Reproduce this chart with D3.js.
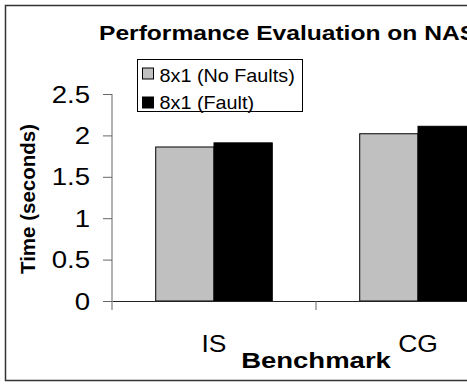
<!DOCTYPE html>
<html>
<head>
<meta charset="utf-8">
<script src="https://cdn.jsdelivr.net/npm/d3@7"></script>
<style>
  html, body { margin: 0; padding: 0; background: #fff; }
  svg { display: block; font-family: "Liberation Sans", Arial, sans-serif; }
</style>
</head>
<body>
<script>
// chart data
const categories = ['IS', 'CG'];
const seriesNames = ['8x1 (No Faults)', '8x1 (Fault)'];
const noFaults = [1.86, 2.02];
const fault = [1.91, 2.11];
const yTicks = [0, 0.5, 1, 1.5, 2, 2.5];

const seriesColors = ['#c0c0c0', '#000000'];

const width = 467, height = 384;
const plot = { left: 112, top: 94, bottom: 301, band: 204 };

const svg = d3.select('body').append('svg')
  .attr('width', width)
  .attr('height', height);

// outer chart frame (runs off the right edge)
svg.append('rect')
  .attr('x', 5.5).attr('y', 5.5)
  .attr('width', 520).attr('height', 375)
  .attr('fill', '#fff')
  .attr('stroke', '#333')
  .attr('stroke-width', 1.5);

// helper: text stretched sideways, like the glyphs in the picture
function stretchedText(g, x, y, str, opts) {
  return g.append('text')
    .attr('transform', `translate(${x},${y}) scale(${opts.sx},1)`)
    .attr('text-anchor', opts.anchor || 'middle')
    .attr('font-size', opts.size)
    .attr('font-weight', opts.bold ? 'bold' : 'normal')
    .attr('fill', '#000')
    .text(str);
}

const x0 = d3.scaleBand()
  .domain(categories)
  .range([plot.left, plot.left + plot.band * categories.length])
  .paddingInner(0)
  .paddingOuter(0);

const x1 = d3.scaleBand()
  .domain(d3.range(seriesNames.length))
  .range([0, x0.bandwidth()])
  .paddingOuter(0.75)
  .paddingInner(0);

const y = d3.scaleLinear()
  .domain([0, 2.5])
  .range([plot.bottom, plot.top]);

const rows = categories.map((c, i) => ({ cat: c, values: [noFaults[i], fault[i]] }));

// bars
const groups = svg.selectAll('g.cat')
  .data(rows)
  .join('g')
  .attr('class', 'cat')
  .attr('transform', d => `translate(${x0(d.cat)},0)`);

groups.selectAll('rect')
  .data(d => d.values.map((v, k) => ({ v, k })))
  .join('rect')
  .attr('x', d => x1(d.k))
  .attr('y', d => y(d.v))
  .attr('width', x1.bandwidth())
  .attr('height', d => y(0) - y(d.v))
  .attr('fill', d => seriesColors[d.k])
  .attr('stroke', '#000')
  .attr('stroke-width', 1);

// y axis
const yAxis = svg.append('g')
  .attr('transform', `translate(${plot.left},0)`)
  .call(d3.axisLeft(y).tickValues(yTicks).tickSize(9).tickFormat(''));
yAxis.select('.domain').attr('stroke', '#666').attr('d', `M0,${plot.top}V${plot.bottom}`);
yAxis.selectAll('.tick line').attr('stroke', '#666');
yTicks.forEach(t => {
  stretchedText(svg, plot.left - 22, y(t) + 8.5, String(t), { size: 23, sx: 1.2, anchor: 'end' });
});

// x axis
const xAxis = svg.append('g')
  .attr('transform', `translate(0,${plot.bottom})`)
  .call(d3.axisBottom(x0).tickSize(0).tickFormat(''));
xAxis.select('.domain').attr('stroke', '#222');
// category boundary ticks
const bounds = categories.map(c => x0(c)).concat([x0.range()[1]]);
svg.append('g').selectAll('line')
  .data(bounds)
  .join('line')
  .attr('x1', d => d).attr('x2', d => d)
  .attr('y1', plot.bottom).attr('y2', plot.bottom + 9)
  .attr('stroke', '#666');

categories.forEach(c => {
  stretchedText(svg, x0(c) + x0.bandwidth() / 2, 352, c, { size: 23, sx: 1.15 });
});

// titles
stretchedText(svg, 99, 40, 'Performance Evaluation on NAS', { size: 20, sx: 1.23, bold: true, anchor: 'start' });
stretchedText(svg, 316, 368, 'Benchmark', { size: 22, sx: 1.25, bold: true });
svg.append('text')
  .attr('transform', 'translate(35,199) rotate(-90)')
  .attr('text-anchor', 'middle')
  .attr('font-size', 20.5)
  .attr('font-weight', 'bold')
  .text('Time (seconds)');

// legend
const legend = svg.append('g').attr('transform', 'translate(137.5,59.5)');
legend.append('rect')
  .attr('width', 165).attr('height', 52)
  .attr('fill', '#fff').attr('stroke', '#000');
seriesNames.forEach((name, i) => {
  legend.append('rect')
    .attr('x', 5).attr('y', 8.5 + i * 29)
    .attr('width', 11).attr('height', 11)
    .attr('fill', seriesColors[i])
    .attr('stroke', '#000');
  stretchedText(legend, 22, 22 + i * 27, name, { size: 18, anchor: 'start', sx: 1.1 });
});
</script>
</body>
</html>
